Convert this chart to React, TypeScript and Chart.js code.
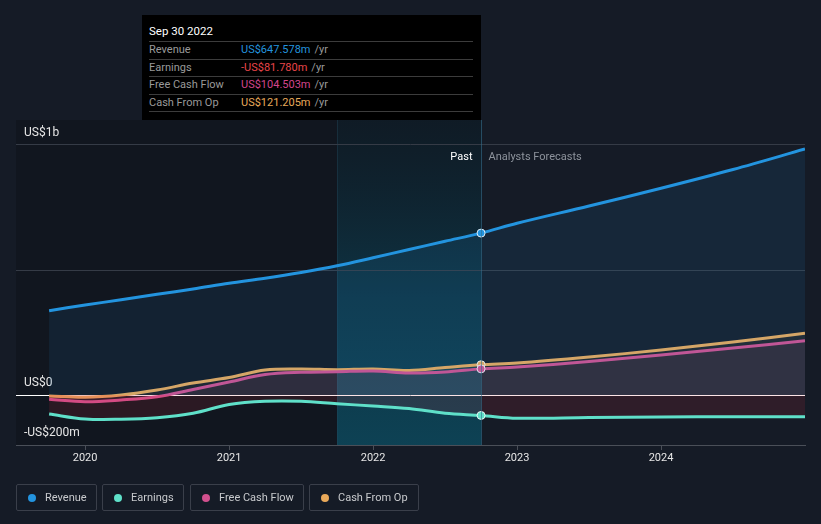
import React, { useEffect, useRef } from 'react';
import { Chart, registerables } from 'chart.js';

Chart.register(...registerables);

// ---- data ($m) ----
const pastYears = [2019.75, 2020, 2020.25, 2020.5, 2020.75, 2021, 2021.25, 2021.5, 2021.75, 2022, 2022.25, 2022.5, 2022.75];
const revenuePast = [337, 360, 381, 403, 424, 447, 467, 490, 517, 549, 582, 615, 647.578];
const earningsPast = [-76, -96, -97, -91, -73, -38, -25, -25, -35, -44, -54, -73, -81.78];
const fcfPast = [-17, -27, -20, -7, 22, 52, 82, 91, 93, 96, 88, 92, 104.503];
const cfoPast = [-4, -9, 0, 20, 48, 70, 100, 104, 101, 104, 98, 110, 121.205];

const forecastYears = [2023, 2023.5, 2024, 2024.5, 2025];
const revenueFc = [687, 756, 827, 902, 984];
const earningsFc = [-93, -90, -88, -87, -87];
const fcfFc = [112, 134, 160, 188, 217];
const cfoFc = [128, 152, 180, 212, 247];

const xTickYears = [2020, 2021, 2022, 2023, 2024];
const yTickValues = [-200, 0, 500, 1000];
const yTickLabels = ['-US$200m', 'US$0', '', 'US$1b'];

const seriesNames = ['Revenue', 'Earnings', 'Free Cash Flow', 'Cash From Op'];
const seriesColors = ['#2394df', '#5fe0c9', '#d2508e', '#e9a95a'];
const tooltipDate = 'Sep 30 2022';
const tooltipValues = ['US$647.578m', '-US$81.780m', 'US$104.503m', 'US$121.205m'];
const tooltipColors = ['#2394df', '#e8454a', '#d2458c', '#e9a95a'];

const PAST_END = 2022.75;
const HIGHLIGHT_START = 2021.75;
const X_MIN = 2019.52;
const X_MAX = 2025.0;

const BG = '#151b26';

function pts(xs: number[], ys: number[]) {
  return xs.map((x, i) => ({ x, y: ys[i] }));
}

const bgPlugin = {
  id: 'bgPlugin',
  beforeDraw(chart: any) {
    const { ctx, chartArea: ca, scales } = chart;
    const x = scales.x;
    const xs = x.getPixelForValue(HIGHLIGHT_START);
    const xe = x.getPixelForValue(PAST_END);
    ctx.save();
    ctx.fillStyle = BG;
    ctx.fillRect(0, 0, chart.width, chart.height);
    ctx.fillStyle = 'rgba(0,0,0,0.16)';
    ctx.fillRect(ca.left, ca.top, xs - ca.left, ca.bottom - ca.top);
    const g = ctx.createLinearGradient(0, ca.top, 0, ca.bottom);
    g.addColorStop(0, 'rgba(10,70,90,0.12)');
    g.addColorStop(0.55, 'rgba(10,110,140,0.35)');
    g.addColorStop(1, 'rgba(10,120,150,0.45)');
    ctx.fillStyle = 'rgba(0,0,0,0.2)';
    ctx.fillRect(xs, ca.top, xe - xs, ca.bottom - ca.top);
    ctx.fillStyle = g;
    ctx.fillRect(xs, ca.top, xe - xs, ca.bottom - ca.top);
    ctx.strokeStyle = 'rgba(40,80,100,0.35)';
    ctx.lineWidth = 1;
    ctx.beginPath();
    ctx.moveTo(Math.round(xs) + 0.5, ca.top);
    ctx.lineTo(Math.round(xs) + 0.5, ca.bottom);
    ctx.stroke();
    ctx.restore();
  },
  afterDatasetsDraw(chart: any) {
    const { ctx, chartArea: ca, scales } = chart;
    const xe = Math.round(chart.scales.x.getPixelForValue(PAST_END)) + 0.5;
    const yTop = scales.y.getPixelForValue(1000);
    ctx.save();
    ctx.strokeStyle = 'rgba(50,110,140,0.6)';
    ctx.lineWidth = 1;
    ctx.beginPath();
    ctx.moveTo(xe, ca.top);
    ctx.lineTo(xe, ca.bottom);
    ctx.stroke();
    ctx.font = '11px Roboto';
    ctx.textBaseline = 'middle';
    ctx.textAlign = 'right';
    ctx.fillStyle = '#ffffff';
    ctx.fillText('Past', xe - 9, yTop + 12);
    ctx.textAlign = 'left';
    ctx.fillStyle = '#8d939c';
    ctx.fillText('Analysts Forecasts', xe + 7, yTop + 12);
    ctx.restore();
  },
};

const fills = ['rgba(35,148,223,0.10)', 'rgba(225,45,60,0.13)', 'rgba(210,80,142,0.10)', 'rgba(233,169,90,0.06)'];
const pastSets = [revenuePast, earningsPast, fcfPast, cfoPast];
const fcSets = [revenueFc, earningsFc, fcfFc, cfoFc];

export default function App() {
  const ref = useRef<HTMLCanvasElement | null>(null);

  useEffect(() => {
    document.body.style.margin = '0';
    document.body.style.background = BG;
    Chart.defaults.font.family = 'Roboto';
    const datasets = seriesNames.map((name, i) => ({
      label: name,
      data: pts(pastYears.concat(forecastYears), pastSets[i].concat(fcSets[i])),
      borderColor: seriesColors[i],
      backgroundColor: fills[i],
      borderWidth: 3,
      fill: 'origin',
      tension: 0.35,
      pointRadius: (c: any) => (c.raw && c.raw.x === PAST_END ? 4 : 0),
      pointHoverRadius: 0,
      pointBackgroundColor: seriesColors[i],
      pointBorderColor: 'rgba(255,255,255,0.85)',
      pointBorderWidth: 1,
    }));
    const chart = new Chart(ref.current!, {
      type: 'line',
      data: { datasets },
      plugins: [bgPlugin],
      options: {
        animation: false,
        responsive: false,
        maintainAspectRatio: false,
        layout: { padding: { left: 16, right: 16, top: 120, bottom: 0 } },
        plugins: { legend: { display: false }, tooltip: { enabled: false } },
        scales: {
          x: {
            type: 'linear',
            min: X_MIN,
            max: X_MAX,
            afterBuildTicks: (s: any) => {
              s.ticks = xTickYears.map((v) => ({ value: v }));
            },
            afterFit: (s: any) => {
              s.height = 79;
            },
            ticks: {
              color: '#e6e6e6',
              font: { size: 11 },
              padding: 2,
              maxRotation: 0,
              callback: (v: any) => String(v),
            },
            grid: { drawOnChartArea: false, drawTicks: true, tickLength: 5, color: '#4a4f58' },
            border: { color: '#4a4f58', width: 1 },
          },
          y: {
            type: 'linear',
            min: -200,
            max: 1100,
            afterBuildTicks: (s: any) => {
              s.ticks = yTickValues.map((v) => ({ value: v }));
            },
            afterFit: (s: any) => {
              s.width = 0;
            },
            ticks: {
              mirror: true,
              padding: 8,
              labelOffset: -12,
              color: '#e6e6e6',
              font: { size: 12 },
              callback: (v: any) => yTickLabels[yTickValues.indexOf(Number(v))] ?? '',
            },
            grid: {
              drawTicks: false,
              color: (c: any) => (c.tick && c.tick.value === 0 ? '#ffffff' : '#353b46'),
              lineWidth: 1,
            },
            border: { display: false },
          },
        },
      },
    });
    return () => chart.destroy();
  }, []);

  const legendBoxes = [
    { left: 16, width: 81 },
    { left: 102, width: 82 },
    { left: 190, width: 114 },
    { left: 309, width: 110 },
  ];

  return (
    <div style={{ position: 'relative', width: 821, height: 524, background: BG, fontFamily: 'Roboto', overflow: 'hidden' }}>
      <canvas ref={ref} width={821} height={524} style={{ position: 'absolute', left: 0, top: 0, width: 821, height: 524 }} />
      <div
        style={{
          position: 'absolute',
          left: 142,
          top: 15,
          width: 339,
          height: 105,
          background: '#000',
          boxSizing: 'border-box',
          padding: '0 8px 0 7px',
          fontSize: 11,
        }}
      >
        <div style={{ color: '#fff', height: 26, lineHeight: '32px', fontSize: 11.5, borderBottom: '1px solid #3c3c3c' }}>{tooltipDate}</div>
        {seriesNames.map((n, i) => (
          <div key={n} style={{ display: 'flex', height: 16.5, lineHeight: '16.5px', borderBottom: '1px solid #3c3c3c' }}>
            <span style={{ color: '#9a9a9a', width: 92 }}>{n}</span>
            <span style={{ color: tooltipColors[i] }}>{tooltipValues[i]}</span>
            <span style={{ color: '#9a9a9a', marginLeft: 4 }}>/yr</span>
          </div>
        ))}
      </div>
      {seriesNames.map((n, i) => (
        <div
          key={n}
          style={{
            position: 'absolute',
            left: legendBoxes[i].left,
            top: 484,
            width: legendBoxes[i].width,
            height: 27,
            boxSizing: 'border-box',
            border: '1px solid #3a3f4a',
            borderRadius: 2,
            display: 'flex',
            alignItems: 'center',
            paddingLeft: 11,
            fontSize: 11,
            color: '#c8cacd',
            whiteSpace: 'nowrap',
          }}
        >
          <span style={{ display: 'inline-block', width: 8, height: 8, borderRadius: 4, background: seriesColors[i], marginRight: 9 }} />
          {n}
        </div>
      ))}
    </div>
  );
}
